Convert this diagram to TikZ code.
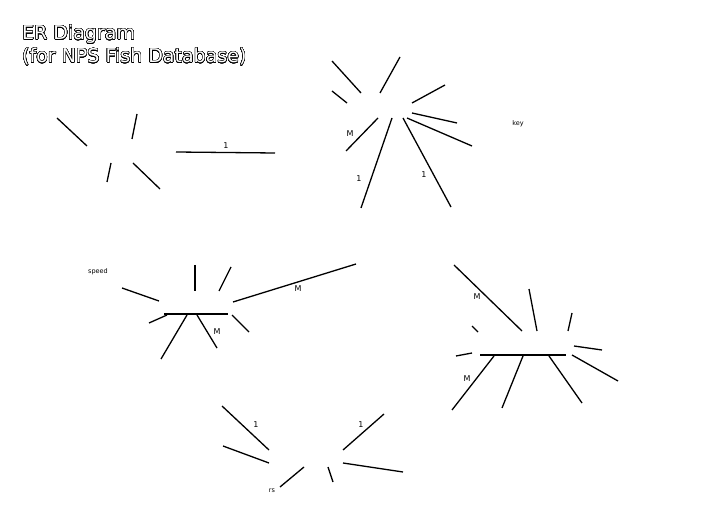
\documentclass[tikz,border=0pt]{standalone}
\usepackage{fontspec}
\setsansfont{DejaVu Sans}
\usepackage{contour}
\contourlength{0.45pt}
\contournumber{32}

\tikzset{
  link/.style={line width=1.3pt},
  card/.style={font=\sffamily\fontsize{8}{8}\selectfont, inner sep=0pt},
  scrap/.style={font=\sffamily\fontsize{6.5}{6.5}\selectfont, inner sep=0pt},
}

\begin{document}
\begin{tikzpicture}[x=1pt,y=-1pt]
\useasboundingbox (0,0) rectangle (701,526);

% title
\node (title) [anchor=north west, align=left, inner sep=0pt, font=\sffamily\fontsize{19}{23}\selectfont] at (22,25)
  {\contour{black}{\textcolor{white}{ER Diagram}}\\\contour{black}{\textcolor{white}{(for NPS Fish Database)}}};

% entities (their boxes are lost, only the ends of the links remain)
\coordinate (site) at (110,151);
\coordinate (survey) at (381,106);
\coordinate (fish) at (196,303);
\coordinate (species) at (523,343);
\coordinate (catch) at (306,458);

% site
\coordinate (site-a1) at (57,118);  \coordinate (site-b1) at (87,146);
\coordinate (site-a2) at (137,114); \coordinate (site-b2) at (132,139);
\coordinate (site-a3) at (107,182); \coordinate (site-b3) at (111,163);
\coordinate (site-a4) at (160,189); \coordinate (site-b4) at (133,163);
\draw[link] (site-a1) -- (site-b1);
\draw[link] (site-a2) -- (site-b2);
\draw[link] (site-a3) -- (site-b3);
\draw[link] (site-a4) -- (site-b4);

% survey
\coordinate (survey-a1) at (332,61);  \coordinate (survey-b1) at (361,93);
\coordinate (survey-a2) at (400,57);  \coordinate (survey-b2) at (380,93);
\coordinate (survey-a3) at (332,91);  \coordinate (survey-b3) at (347,103);
\coordinate (survey-a4) at (445,85);  \coordinate (survey-b4) at (412,103);
\coordinate (survey-a5) at (457,123); \coordinate (survey-b5) at (412,113);
\coordinate (survey-a6) at (472,146); \coordinate (survey-b6) at (407,118);
\draw[link] (survey-a1) -- (survey-b1);
\draw[link] (survey-a2) -- (survey-b2);
\draw[link] (survey-a3) -- (survey-b3);
\draw[link] (survey-a4) -- (survey-b4);
\draw[link] (survey-a5) -- (survey-b5);
\draw[link] (survey-a6) -- (survey-b6);
\node (key) [scrap] at (518,124) {key};

% fish
\coordinate (fish-sw) at (164,314); \coordinate (fish-se) at (228,314);
\draw[link] (fish-sw) -- (fish-se);
\coordinate (fish-a1) at (195,265); \coordinate (fish-b1) at (195,291);
\coordinate (fish-a2) at (231,267); \coordinate (fish-b2) at (219,291);
\coordinate (fish-a3) at (122,288); \coordinate (fish-b3) at (159,301);
\coordinate (fish-a4) at (149,323); \coordinate (fish-b4) at (167,315);
\coordinate (fish-a5) at (161,359); \coordinate (fish-b5) at (187,315);
\coordinate (fish-a6) at (249,332); \coordinate (fish-b6) at (232,315);
\draw[link] (fish-a1) -- (fish-b1);
\draw[link] (fish-a2) -- (fish-b2);
\draw[link] (fish-a3) -- (fish-b3);
\draw[link] (fish-a4) -- (fish-b4);
\draw[link] (fish-a5) -- (fish-b5);
\draw[link] (fish-a6) -- (fish-b6);
\node (speed) [scrap] at (98,272) {speed};

% species
\coordinate (species-sw) at (480,355); \coordinate (species-se) at (566,355);
\draw[link] (species-sw) -- (species-se);
\coordinate (species-a1) at (529,289); \coordinate (species-b1) at (537,331);
\coordinate (species-a2) at (572,313); \coordinate (species-b2) at (568,331);
\coordinate (species-a3) at (472,326); \coordinate (species-b3) at (478,332);
\coordinate (species-a4) at (602,350); \coordinate (species-b4) at (574,346);
\coordinate (species-a5) at (456,356); \coordinate (species-b5) at (472,353);
\coordinate (species-a6) at (502,408); \coordinate (species-b6) at (523,356);
\coordinate (species-a7) at (582,403); \coordinate (species-b7) at (549,356);
\coordinate (species-a8) at (618,381); \coordinate (species-b8) at (572,355);
\draw[link] (species-a1) -- (species-b1);
\draw[link] (species-a2) -- (species-b2);
\draw[link] (species-a3) -- (species-b3);
\draw[link] (species-a4) -- (species-b4);
\draw[link] (species-a5) -- (species-b5);
\draw[link] (species-a6) -- (species-b6);
\draw[link] (species-a7) -- (species-b7);
\draw[link] (species-a8) -- (species-b8);

% catch
\coordinate (catch-a1) at (223,446); \coordinate (catch-b1) at (269,463);
\coordinate (catch-a2) at (280,487); \coordinate (catch-b2) at (304,467);
\coordinate (catch-a3) at (333,482); \coordinate (catch-b3) at (328,467);
\coordinate (catch-a4) at (403,472); \coordinate (catch-b4) at (343,463);
\draw[link] (catch-a1) -- (catch-b1);
\draw[link] (catch-a2) -- (catch-b2);
\draw[link] (catch-a3) -- (catch-b3);
\draw[link] (catch-a4) -- (catch-b4);
\node (rs) [scrap] at (272,491) {rs};

% relationships
\coordinate (site-r) at (176,152);    \coordinate (rel1-l) at (275,153);
\coordinate (survey-r1) at (378,118); \coordinate (rel1-r) at (346,151);
\coordinate (survey-r2) at (392,118); \coordinate (rel2-t) at (361,208);
\coordinate (survey-r3) at (403,118); \coordinate (rel3-t) at (451,207);
\coordinate (fish-r2) at (233,302);   \coordinate (rel2-b) at (356,264);
\coordinate (species-r3) at (522,331);\coordinate (rel3-b) at (454,265);
\coordinate (fish-r4) at (197,315);   \coordinate (rel4-t) at (217,348);
\coordinate (catch-r4) at (269,450);  \coordinate (rel4-b) at (222,406);
\coordinate (species-r5) at (494,356);\coordinate (rel5-t) at (452,410);
\coordinate (catch-r5) at (343,450);  \coordinate (rel5-b) at (384,414);

\draw[link] (site-r) -- (rel1-l);
\draw[link] (survey-r1) -- (rel1-r);
\draw[link] (survey-r2) -- (rel2-t);
\draw[link] (survey-r3) -- (rel3-t);
\draw[link] (fish-r2) -- (rel2-b);
\draw[link] (species-r3) -- (rel3-b);
\draw[link] (fish-r4) -- (rel4-t);
\draw[link] (catch-r4) -- (rel4-b);
\draw[link] (species-r5) -- (rel5-t);
\draw[link] (catch-r5) -- (rel5-b);

% cardinalities
\node (c1) [card] at (226,146) {1};
\node (c2) [card] at (350,134) {M};
\node (c3) [card] at (359,179) {1};
\node (c4) [card] at (424,175) {1};
\node (c5) [card] at (298,289) {M};
\node (c6) [card] at (477,297) {M};
\node (c7) [card] at (217,332) {M};
\node (c8) [card] at (256,425) {1};
\node (c9) [card] at (467,379) {M};
\node (c10) [card] at (361,425) {1};
\end{tikzpicture}
\end{document}
